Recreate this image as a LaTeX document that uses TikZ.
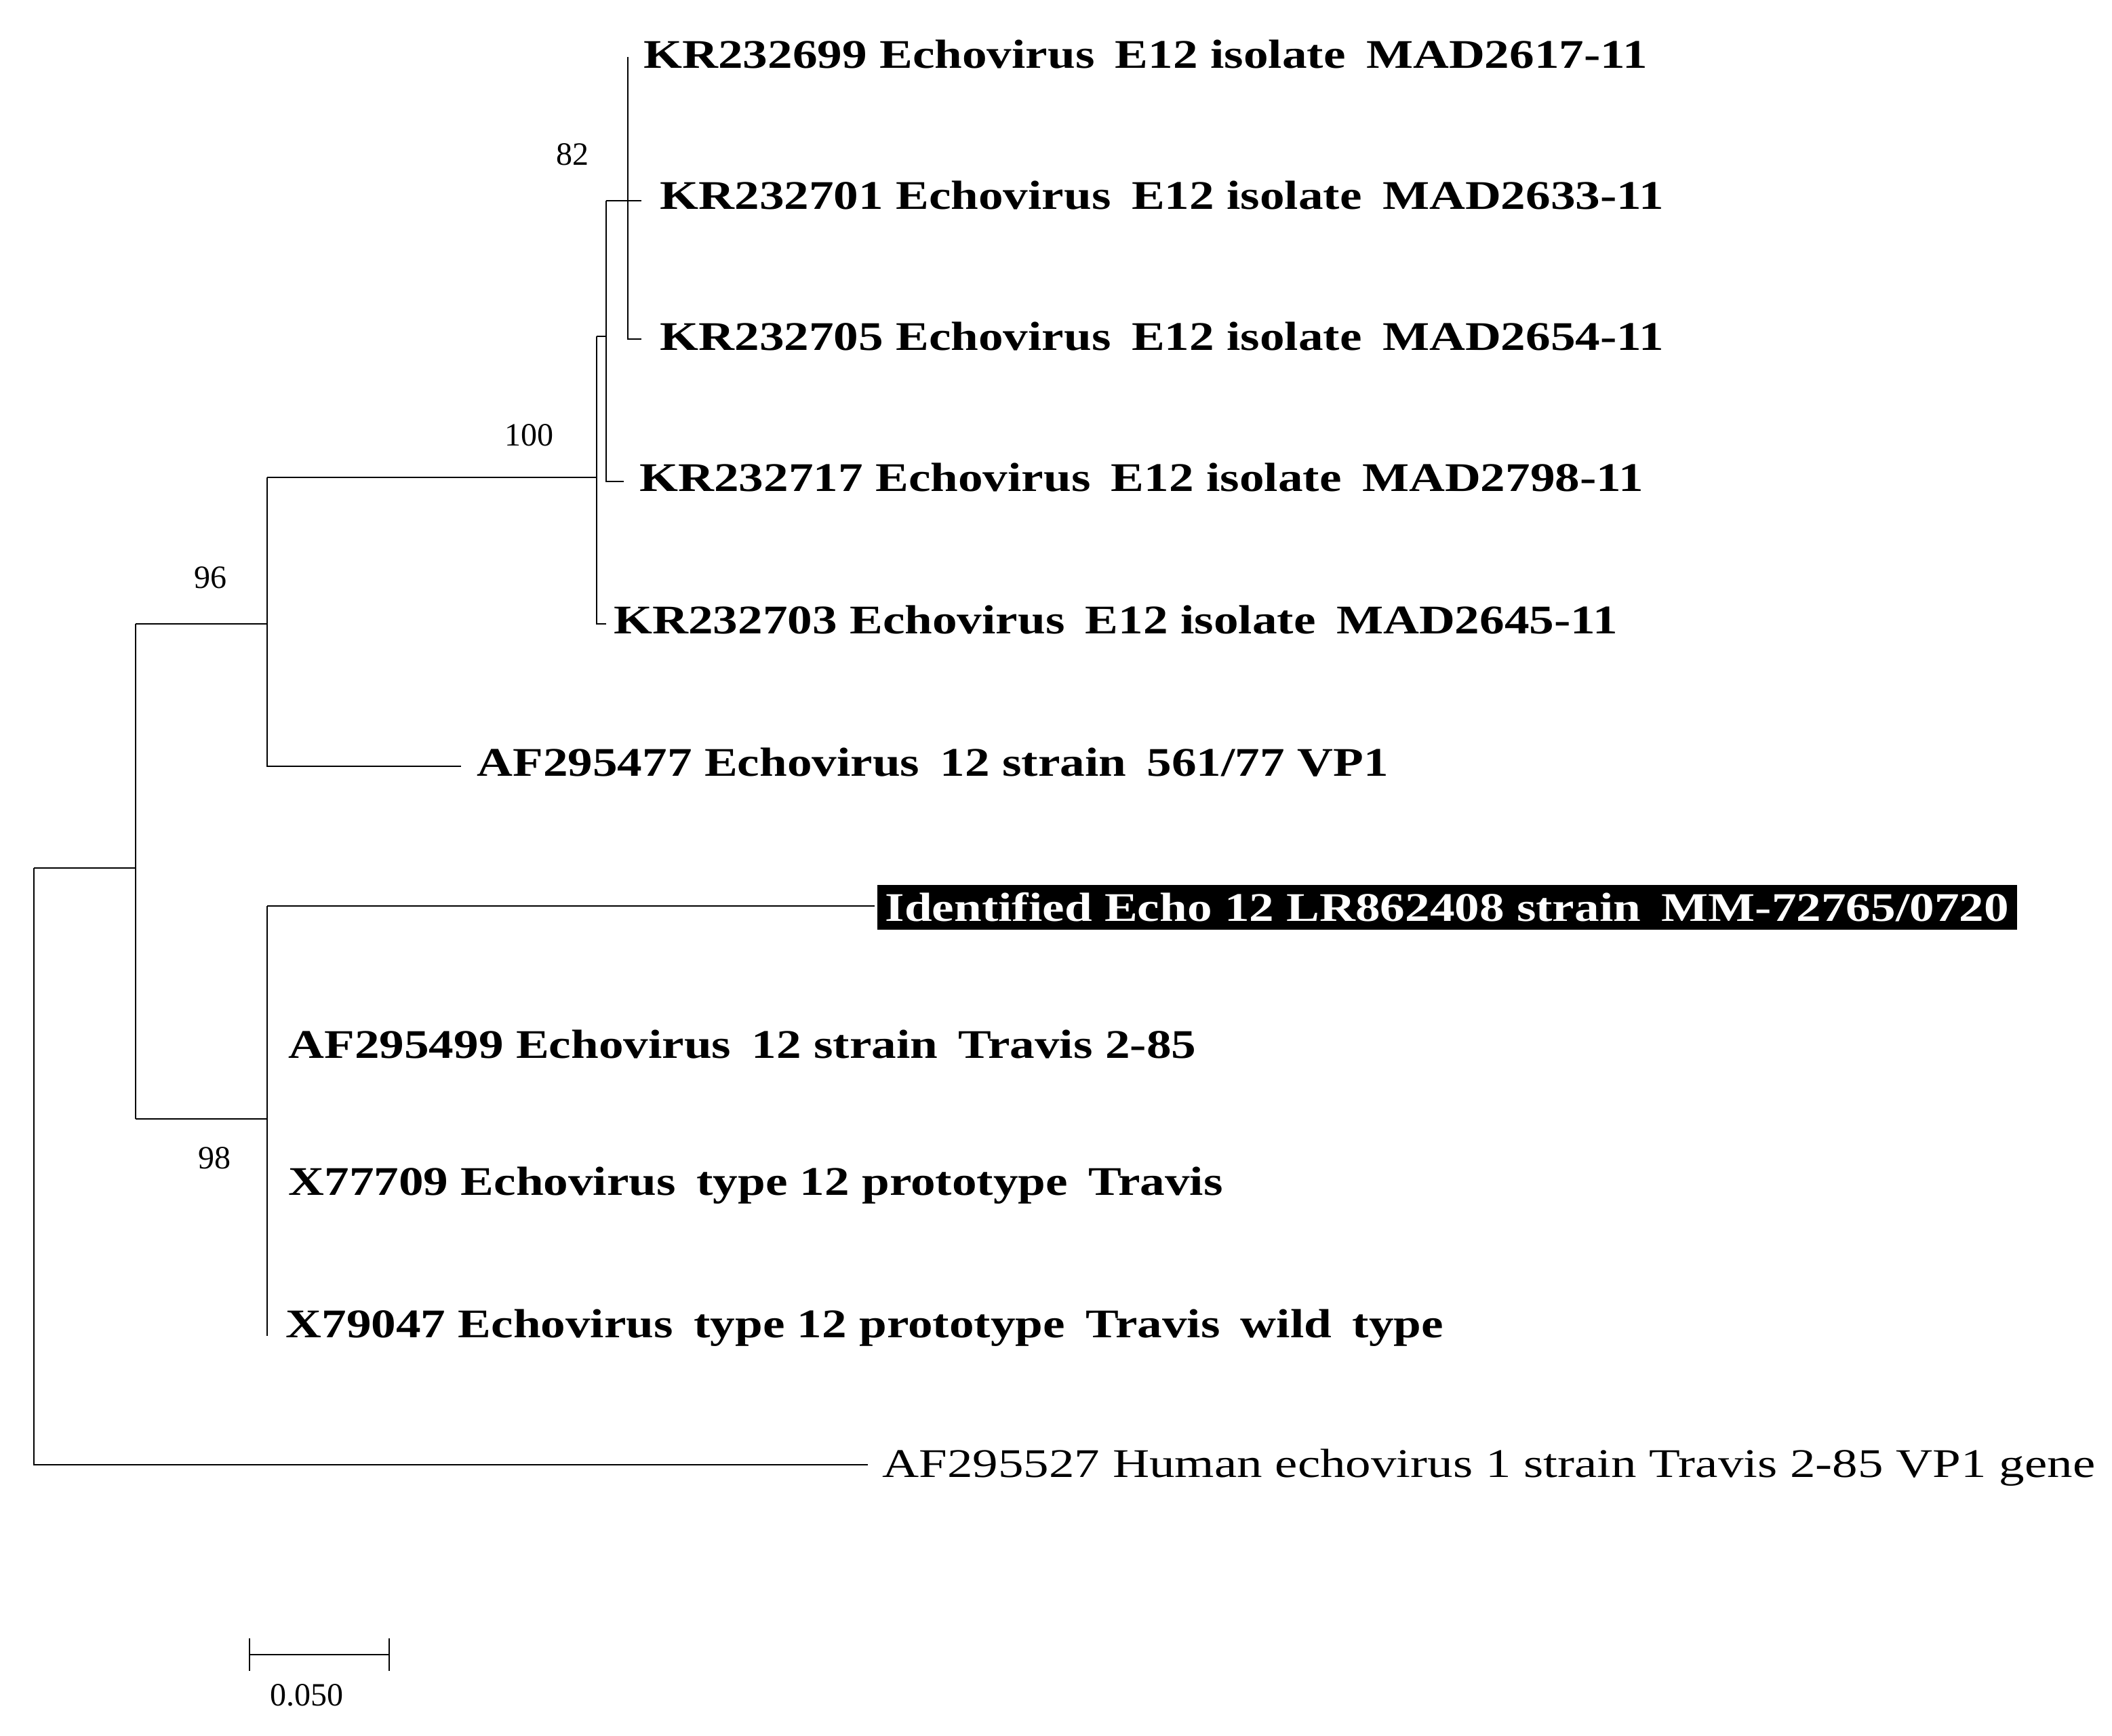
\documentclass[tikz,border=0pt]{standalone}
\usepackage{fontspec}
\setmainfont{Liberation Serif}
\begin{document}
\begin{tikzpicture}[x=1pt,y=-1pt,line width=1.3pt,
  lab/.style={anchor=west,inner sep=0pt,xscale=1.22,transform shape,font=\fontsize{30}{30}\selectfont\bfseries},
  labn/.style={anchor=west,inner sep=0pt,xscale=1.25,transform shape,font=\fontsize{30}{30}\selectfont},
  boot/.style={inner sep=0pt,font=\fontsize{24}{24}\selectfont}]
\useasboundingbox (0,0) rectangle (1557.5,1279.5);
% tree
\draw (25,640) -- (25,1080) -- (640,1080);
\draw (25,640) -- (100,640);
\draw (100,460) -- (100,825);
\draw (100,460) -- (197,460);
\draw (100,825) -- (197,825);
\draw (197,352) -- (197,565) -- (340,565);
\draw (197,352) -- (440,352);
\draw (440,248) -- (440,460) -- (447,460);
\draw (440,248) -- (447,248);
\draw (447,148) -- (447,355) -- (460,355);
\draw (447,148) -- (463,148);
\draw (463,42) -- (463,250) -- (473,250);
\draw (463,148) -- (473,148);
\draw (197,668) -- (197,985);
\draw (197,668) -- (645,668);
% labels
\node[lab] (l1) at (474,40) {KR232699 Echovirus\, E12 isolate\, MAD2617-11};
\node[lab] (l2) at (486,144) {KR232701 Echovirus\, E12 isolate\, MAD2633-11};
\node[lab] (l3) at (486,248) {KR232705 Echovirus\, E12 isolate\, MAD2654-11};
\node[lab] (l4) at (471,352) {KR232717 Echovirus\, E12 isolate\, MAD2798-11};
\node[lab] (l5) at (452,457) {KR232703 Echovirus\, E12 isolate\, MAD2645-11};
\node[lab] (l6) at (351,562) {AF295477 Echovirus\, 12 strain\, 561/77 VP1};
\node[lab,fill=black,text=white,inner xsep=5pt,inner ysep=6pt] (l7) at (646,669) {Identified Echo 12 LR862408 strain\, MM-72765/0720};
\node[lab] (l8) at (212,770) {AF295499 Echovirus\, 12 strain\, Travis 2-85};
\node[lab] (l9) at (212,874) {X77709 Echovirus\, type 12 prototype\, Travis};
\node[lab] (l10) at (210,979) {X79047 Echovirus\, type 12 prototype\, Travis\, wild\, type};
\node[labn] (l11) at (650,1082) {AF295527 Human echovirus 1 strain Travis 2-85 VP1 gene};
\node[boot] (b1) at (422,114) {82};
\node[boot] (b2) at (390,321) {100};
\node[boot] (b3) at (155,426) {96};
\node[boot] (b4) at (158,854) {98};
% scale
\coordinate (s1) at (184,1220);
\coordinate (s2) at (287,1220);
\draw (s1) -- (s2);
\draw (184,1208) -- (184,1232);
\draw (287,1208) -- (287,1232);
\node[boot] (sc) at (226,1250) {0.050};
\end{tikzpicture}
\end{document}
